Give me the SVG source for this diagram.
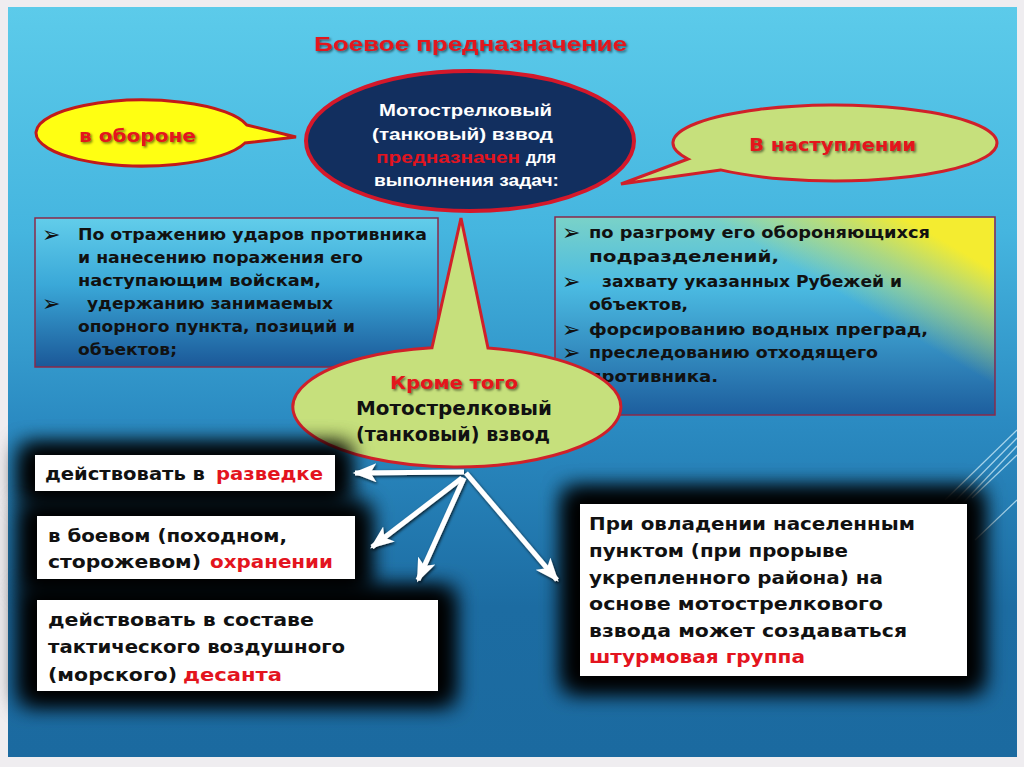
<svg xmlns="http://www.w3.org/2000/svg" width="1024" height="767" viewBox="0 0 1024 767">
<defs>
<linearGradient id="bg" x1="0" y1="0" x2="0" y2="1">
<stop offset="0" stop-color="#5ccbea"/>
<stop offset="0.3" stop-color="#45b5df"/>
<stop offset="0.55" stop-color="#2b8bc2"/>
<stop offset="0.8" stop-color="#1c6ca2"/>
<stop offset="1" stop-color="#1b6aa0"/>
</linearGradient>
<linearGradient id="lbox" x1="0" y1="0" x2="0" y2="1">
<stop offset="0" stop-color="#62cdea"/>
<stop offset="0.45" stop-color="#3aa8d8"/>
<stop offset="1" stop-color="#1b5898"/>
</linearGradient>
<linearGradient id="rbox" x1="0" y1="0" x2="0" y2="1">
<stop offset="0" stop-color="#7ad2c8"/>
<stop offset="0.35" stop-color="#4bbbe2"/>
<stop offset="1" stop-color="#1d5e9e"/>
</linearGradient>
<linearGradient id="ryel" gradientUnits="userSpaceOnUse" x1="850" y1="300" x2="900" y2="215">
<stop offset="0" stop-color="#f2ea3a" stop-opacity="0"/>
<stop offset="0.55" stop-color="#e8e640" stop-opacity="0.55"/>
<stop offset="1" stop-color="#f4ec30" stop-opacity="1"/>
</linearGradient>
<filter id="blur" x="-30%" y="-60%" width="160%" height="220%">
<feGaussianBlur stdDeviation="11"/>
</filter>
<filter id="tsh" x="-10%" y="-30%" width="120%" height="160%">
<feDropShadow dx="1.5" dy="1.5" stdDeviation="1" flood-color="#000" flood-opacity="0.55"/>
</filter>
<filter id="ash" x="-20%" y="-20%" width="140%" height="140%">
<feDropShadow dx="1" dy="1.5" stdDeviation="1.5" flood-color="#000" flood-opacity="0.8"/>
</filter>
<marker id="ah" viewBox="0 0 20 16" refX="18" refY="8" markerWidth="24" markerHeight="19" markerUnits="userSpaceOnUse" orient="auto">
<path d="M0,0 L20,8 L0,16 L5,8 Z" fill="#ffffff"/>
</marker>
<style>
.sans{font-family:"DejaVu Sans","Liberation Sans",sans-serif;font-weight:bold;}
.nar{font-family:"Liberation Sans","DejaVu Sans",sans-serif;font-weight:bold;}
.red{fill:#e3141e;}
.blk{fill:#111111;}
.wht{fill:#ffffff;}
.bt{font-size:16px;}
.wt{font-size:18px;}
.wbox{fill:#ffffff;}
.shd{fill:#000000;filter:url(#blur);}
.bul{font-family:"DejaVu Sans",sans-serif;font-size:22px;font-weight:bold;fill:#111;}
</style>
</defs>

<rect x="0" y="0" width="1024" height="767" fill="#efedf0"/>
<rect x="8" y="7" width="1009" height="750" fill="url(#bg)"/>

<g id="deco" stroke="#cfeefa" stroke-width="1.2" opacity="0.75" fill="none">
<line x1="1017" y1="430" x2="945" y2="500"/>
<line x1="1017" y1="438" x2="952" y2="504"/>
<line x1="1017" y1="446" x2="960" y2="506"/>
<line x1="1017" y1="455" x2="972" y2="498"/>
<line x1="1017" y1="500" x2="975" y2="540"/>
</g>

<g id="title">
<text class="nar red" x="314" y="51" font-size="21" textLength="313" lengthAdjust="spacingAndGlyphs" filter="url(#tsh)">Боевое предназначение</text>
</g>

<g id="defense">
<path d="M246.8,125 L296,137 L245,143 A107,33 0 1 1 246.8,125 Z" fill="#ffff12" stroke="#c21a1a" stroke-width="3"/>
<text class="sans red" x="79" y="142" font-size="18" textLength="117" lengthAdjust="spacingAndGlyphs" filter="url(#tsh)">в обороне</text>
</g>

<g id="main">
<ellipse cx="470" cy="141" rx="164" ry="70" fill="#122f5f" stroke="#d4182a" stroke-width="4"/>
<text class="nar wht" x="379" y="116" font-size="17" textLength="173" lengthAdjust="spacingAndGlyphs">Мотострелковый</text>
<text class="nar wht" x="372" y="140" font-size="17" textLength="181" lengthAdjust="spacingAndGlyphs">(танковый) взвод</text>
<text class="nar red" x="376" y="163" font-size="17" textLength="144" lengthAdjust="spacingAndGlyphs">предназначен</text>
<text class="nar wht" x="526" y="163" font-size="17" textLength="30" lengthAdjust="spacingAndGlyphs">для</text>
<text class="nar wht" x="374" y="186" font-size="17" textLength="185" lengthAdjust="spacingAndGlyphs">выполнения задач:</text>
</g>

<g id="offense">
<path d="M688,159 L621,184 L720.5,169.9 A162,38 0 1 0 688,159 Z" fill="#c6e07c" stroke="#d0202a" stroke-width="3"/>
<text class="sans red" x="749" y="151" font-size="18" textLength="167" lengthAdjust="spacingAndGlyphs" filter="url(#tsh)">В наступлении</text>
</g>

<g id="defense-tasks">
<rect x="35" y="218" width="403" height="149" fill="url(#lbox)" stroke="#8a2a4a" stroke-width="1.5"/>
<text class="bul" x="42" y="242">➢</text>
<text class="bul" x="42" y="311">➢</text>
<text class="sans blk bt" x="78" y="240" textLength="349" lengthAdjust="spacingAndGlyphs">По отражению ударов противника</text>
<text class="sans blk bt" x="78" y="263" textLength="285" lengthAdjust="spacingAndGlyphs">и нанесению поражения его</text>
<text class="sans blk bt" x="78" y="286" textLength="243" lengthAdjust="spacingAndGlyphs">наступающим войскам,</text>
<text class="sans blk bt" x="87" y="309" textLength="246" lengthAdjust="spacingAndGlyphs">удержанию занимаемых</text>
<text class="sans blk bt" x="78" y="332" textLength="277" lengthAdjust="spacingAndGlyphs">опорного пункта, позиций и</text>
<text class="sans blk bt" x="78" y="355" textLength="99" lengthAdjust="spacingAndGlyphs">объектов;</text>
</g>

<g id="offense-tasks">
<rect x="555" y="217" width="440" height="198" fill="url(#rbox)" stroke="#8a2a4a" stroke-width="1.5"/>
<rect x="556" y="218" width="438" height="196" fill="url(#ryel)"/>
<text class="bul" x="562" y="240">➢</text>
<text class="bul" x="562" y="289">➢</text>
<text class="bul" x="562" y="337">➢</text>
<text class="bul" x="562" y="360">➢</text>
<text class="sans blk bt" x="589" y="238" textLength="341" lengthAdjust="spacingAndGlyphs">по разгрому его обороняющихся</text>
<text class="sans blk bt" x="589" y="262" textLength="190" lengthAdjust="spacingAndGlyphs">подразделений,</text>
<text class="sans blk bt" x="602" y="287" textLength="300" lengthAdjust="spacingAndGlyphs">захвату указанных Рубежей и</text>
<text class="sans blk bt" x="589" y="310" textLength="99" lengthAdjust="spacingAndGlyphs">объектов,</text>
<text class="sans blk bt" x="589" y="335" textLength="339" lengthAdjust="spacingAndGlyphs">форсированию водных преград,</text>
<text class="sans blk bt" x="589" y="358" textLength="289" lengthAdjust="spacingAndGlyphs">преследованию отходящего</text>
<text class="sans blk bt" x="589" y="382" textLength="129" lengthAdjust="spacingAndGlyphs">противника.</text>
</g>

<g id="besides">
<path d="M432,347.7 L461,218 L488,348.1 A164,60 0 1 1 432,347.7 Z" fill="#c6e07c" stroke="#d0202a" stroke-width="3"/>
<text class="sans red" x="390" y="389" font-size="18" textLength="128" lengthAdjust="spacingAndGlyphs" filter="url(#tsh)">Кроме того</text>
<text class="sans blk" x="356" y="415" font-size="19" textLength="196" lengthAdjust="spacingAndGlyphs">Мотострелковый</text>
<text class="sans blk" x="356" y="441" font-size="19" textLength="194" lengthAdjust="spacingAndGlyphs">(танковый) взвод</text>
</g>

<g id="shadows">
<rect class="shd" x="22" y="446" width="326" height="56"/>
<rect class="shd" x="22" y="446" width="326" height="56"/>
<rect class="shd" x="22" y="505" width="346" height="86"/>
<rect class="shd" x="22" y="589" width="430" height="114"/>
<rect class="shd" x="22" y="505" width="346" height="86"/>
<rect class="shd" x="22" y="589" width="430" height="114"/>
<rect class="shd" x="565" y="490" width="416" height="200"/>
<rect class="shd" x="565" y="490" width="416" height="200"/>
</g>

<g id="recon">
<rect class="wbox" x="35" y="455" width="300" height="36"/>
<text class="sans blk wt" x="45" y="480" textLength="160" lengthAdjust="spacingAndGlyphs">действовать в</text>
<text class="sans red wt" x="216" y="480" textLength="107" lengthAdjust="spacingAndGlyphs">разведке</text>
</g>

<g id="guard">
<rect class="wbox" x="37" y="516" width="318" height="63"/>
<text class="sans blk wt" x="48" y="542" textLength="239" lengthAdjust="spacingAndGlyphs">в боевом (походном,</text>
<text class="sans blk wt" x="48" y="568" textLength="153" lengthAdjust="spacingAndGlyphs">сторожевом)</text>
<text class="sans red wt" x="210" y="568" textLength="123" lengthAdjust="spacingAndGlyphs">охранении</text>
</g>

<g id="landing">
<rect class="wbox" x="37" y="600" width="401" height="91"/>
<text class="sans blk wt" x="48" y="626" textLength="266" lengthAdjust="spacingAndGlyphs">действовать в составе</text>
<text class="sans blk wt" x="48" y="653" textLength="297" lengthAdjust="spacingAndGlyphs">тактического воздушного</text>
<text class="sans blk wt" x="48" y="681" textLength="129" lengthAdjust="spacingAndGlyphs">(морского)</text>
<text class="sans red wt" x="183" y="681" textLength="99" lengthAdjust="spacingAndGlyphs">десанта</text>
</g>

<g id="assault">
<rect class="wbox" x="580" y="504" width="387" height="172"/>
<text class="sans blk wt" x="589" y="530" textLength="326" lengthAdjust="spacingAndGlyphs">При овладении населенным</text>
<text class="sans blk wt" x="589" y="557" textLength="259" lengthAdjust="spacingAndGlyphs">пунктом (при прорыве</text>
<text class="sans blk wt" x="589" y="584" textLength="294" lengthAdjust="spacingAndGlyphs">укрепленного района) на</text>
<text class="sans blk wt" x="589" y="610" textLength="294" lengthAdjust="spacingAndGlyphs">основе мотострелкового</text>
<text class="sans blk wt" x="589" y="637" textLength="318" lengthAdjust="spacingAndGlyphs">взвода может создаваться</text>
<text class="sans red wt" x="589" y="663" textLength="216" lengthAdjust="spacingAndGlyphs">штурмовая группа</text>
</g>

<g id="connectors" stroke="#ffffff" stroke-width="5" fill="none" marker-end="url(#ah)" filter="url(#ash)">
<line x1="464" y1="472" x2="355" y2="473"/>
<line x1="462" y1="478" x2="372" y2="547"/>
<line x1="464" y1="478" x2="418" y2="580"/>
<line x1="466" y1="473" x2="557" y2="580"/>
</g>
</svg>
